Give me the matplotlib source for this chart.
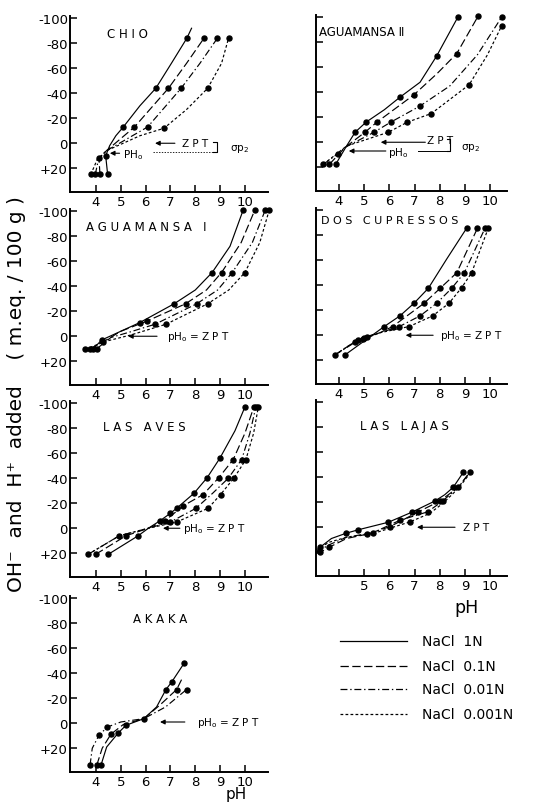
import matplotlib
matplotlib.use('Agg')
import matplotlib.pyplot as plt
from matplotlib.lines import Line2D

plt.rcParams['font.family'] = ['DejaVu Sans']
plt.rcParams['lines.scale_dashes'] = False
plt.rcParams['mathtext.default'] = 'regular'

W, H = 545, 803

# order of series in every panel: NaCl 1N, 0.1N, 0.01N, 0.001N
legend_labels = ['NaCl  1N', 'NaCl  0.1N', 'NaCl  0.01N', 'NaCl  0.001N']
line_styles = ['-', (0, (6, 2.5)), (0, (5, 2, 1, 2)), (0, (2, 1.6))]

ph_ticks = [4, 5, 6, 7, 8, 9, 10]
v_ticks = [-100, -80, -60, -40, -20, 0, 20]
v_tick_labels = ['-100', '-80', '-60', '-40', '-20', '0', '+20']

# ---- CHIO (pH, m.eq./100 g; negative = OH- added)
chio_lines = [
    [(4.47, 25), (4.39, 10), (4.55, 2), (4.8, -6), (5.10, -13), (5.77, -30), (6.41, -44), (7.04, -64), (7.66, -84), (7.85, -92)],
    [(4.16, 25), (4.12, 12), (4.42, 6), (5.55, -13), (6.92, -44), (7.65, -64), (8.35, -84)],
    [(3.97, 25), (4.10, 13), (4.42, 6), (6.08, -13), (7.43, -44), (8.19, -64), (8.89, -84)],
    [(3.79, 25), (4.05, 13), (4.42, 6), (5.77, -6), (6.74, -12), (7.65, -27), (8.50, -44), (9.06, -64), (9.34, -84)],
]
chio_dots = [
    [(4.47, 25), (4.39, 10), (5.10, -13), (6.41, -44), (7.66, -84)],
    [(4.16, 25), (4.12, 12), (5.55, -13), (6.92, -44), (8.35, -84)],
    [(3.97, 25), (6.08, -13), (7.43, -44), (8.89, -84)],
    [(3.79, 25), (6.74, -12), (8.50, -44), (9.34, -84)],
]

# ---- AGUAMANSA II
ag2_lines = [
    [(3.87, 17.6), (4.30, 3), (4.64, -8), (5.07, -16), (5.8, -26), (6.42, -36), (7.22, -48), (7.88, -69), (8.72, -100)],
    [(3.62, 17.6), (4.25, 4), (5.03, -8), (5.50, -16), (6.98, -38), (7.9, -55), (8.68, -71), (9.53, -101)],
    [(3.38, 17.6), (3.97, 9), (4.25, 4), (5.39, -8), (6.05, -16), (7.22, -29), (8.4, -45), (9.5, -70), (10.46, -100)],
    [(3.38, 17.6), (4.30, 3), (5.96, -8), (6.71, -16), (7.67, -23), (9.17, -46), (9.9, -70), (10.46, -93)],
]
ag2_dots = [
    [(3.87, 17.6), (4.64, -8), (5.07, -16), (6.42, -36), (7.88, -69), (8.72, -100)],
    [(3.62, 17.6), (5.03, -8), (5.50, -16), (6.98, -38), (8.68, -71), (9.53, -101)],
    [(3.38, 17.6), (3.97, 9), (5.39, -8), (6.05, -16), (7.22, -29), (10.46, -100)],
    [(5.96, -8), (6.71, -16), (7.67, -23), (9.17, -46), (10.46, -93)],
]

# ---- AGUAMANSA I
ag1_lines = [
    [(3.89, 10), (4.23, 3), (5.0, -4), (5.77, -11), (7.15, -26), (8.0, -37), (8.68, -51), (9.40, -72), (9.93, -101)],
    [(3.76, 10), (4.29, 4.5), (5.0, -4), (6.04, -12), (7.61, -26), (8.45, -37), (9.06, -51), (9.85, -75), (10.40, -101)],
    [(4.03, 10), (4.6, 1), (5.3, -3), (6.38, -9.6), (8.06, -26), (8.9, -37), (9.49, -51), (10.3, -75), (10.82, -101)],
    [(3.56, 10.4), (4.4, 4), (5.4, -1), (6.82, -9.6), (8.50, -26), (9.35, -37), (10.0, -51), (10.6, -75), (10.98, -101)],
]
ag1_dots = [
    [(3.89, 10), (4.23, 3), (5.77, -11), (7.15, -26), (8.68, -51), (9.93, -101)],
    [(3.76, 10), (4.29, 4.5), (6.04, -12), (7.61, -26), (9.06, -51), (10.40, -101)],
    [(4.03, 10), (6.38, -9.6), (8.06, -26), (9.49, -51), (10.82, -101)],
    [(3.56, 10.4), (6.82, -9.6), (8.50, -26), (10.0, -51), (10.98, -101)],
]

# ---- DOS CUPRESSOS
dos_lines = [
    [(4.24, 15.7), (5.80, -7), (6.42, -15.5), (6.98, -25.6), (7.55, -37.6), (8.28, -61), (9.07, -85.6)],
    [(3.84, 15.7), (4.64, 5), (5.10, 1), (5.63, -2), (6.13, -7), (7.38, -25.6), (8.02, -37.6), (8.68, -50), (9.50, -85.6)],
    [(3.84, 15.7), (4.77, 4), (5.0, 2), (5.63, -2), (6.40, -7), (7.22, -15.5), (7.88, -25.6), (8.48, -37.6), (8.98, -50), (9.80, -85.6)],
    [(3.84, 15.7), (4.64, 5), (4.97, 3), (5.63, -2), (6.79, -7), (7.72, -15.5), (8.37, -25.6), (8.87, -38), (9.27, -50), (9.93, -85.6)],
]
dos_dots = [
    [(4.24, 15.7), (5.80, -7), (6.42, -15.5), (6.98, -25.6), (7.55, -37.6), (9.07, -85.6)],
    [(3.84, 15.7), (4.64, 5), (5.10, 1), (6.13, -7), (7.38, -25.6), (8.02, -37.6), (8.68, -50), (9.50, -85.6)],
    [(4.77, 4), (5.0, 2), (6.40, -7), (7.22, -15.5), (7.88, -25.6), (8.48, -37.6), (8.98, -50), (9.80, -85.6)],
    [(4.97, 3), (6.79, -7), (7.72, -15.5), (8.37, -25.6), (8.87, -38), (9.27, -50), (9.93, -85.6)],
]

# ---- LAS AVES
aves_lines = [
    [(4.50, 20.8), (5.70, 6), (6.11, 0), (6.58, -6), (7.0, -12), (7.25, -16), (7.95, -28), (8.48, -40.5), (8.99, -56), (9.6, -78), (10.0, -97)],
    [(3.99, 20.8), (5.21, 6), (6.11, 0), (6.78, -6), (7.52, -18), (8.32, -27), (8.95, -40.5), (9.53, -55), (10.0, -76), (10.36, -97)],
    [(3.69, 20.8), (4.94, 6), (6.11, 0), (7.0, -5), (8.03, -16), (8.7, -28), (9.33, -40), (9.87, -55), (10.2, -76), (10.44, -97)],
    [(3.69, 20.8), (4.94, 6), (6.11, 0), (7.25, -5), (8.52, -16), (9.02, -27), (9.57, -40.5), (10.04, -55), (10.35, -76), (10.54, -97)],
]
aves_dots = [
    [(4.50, 20.8), (5.70, 6), (6.58, -6), (7.0, -12), (7.25, -16), (7.95, -28), (8.48, -40.5), (8.99, -56), (10.0, -97)],
    [(3.99, 20.8), (5.21, 6), (6.78, -6), (7.52, -18), (8.32, -27), (8.95, -40.5), (9.53, -55), (10.36, -97)],
    [(3.69, 20.8), (4.94, 6), (7.0, -5), (8.03, -16), (9.33, -40), (9.87, -55), (10.44, -97)],
    [(7.25, -5), (8.52, -16), (9.02, -27), (9.57, -40.5), (10.04, -55), (10.54, -97)],
]

# ---- LAS LAJAS
lajas_lines = [
    [(3.1, 20), (3.25, 16), (3.7, 9), (4.28, 4.8), (4.77, 2), (5.96, -4), (6.89, -12), (7.81, -21), (8.2, -26), (8.54, -32), (8.94, -44)],
    [(3.1, 21), (3.25, 20), (3.61, 16), (4.3, 9), (5.10, 5.6), (6.03, -0.5), (7.15, -12.3), (8.01, -21), (8.74, -32), (9.20, -44)],
    [(3.1, 20), (3.61, 14), (4.3, 8), (5.36, 4.3), (6.42, -5.6), (7.52, -12.3), (8.12, -21), (8.74, -32), (9.20, -44)],
    [(3.1, 18), (3.61, 12), (4.3, 8), (5.36, 5), (6.82, -4.3), (7.6, -11), (8.12, -19), (8.74, -31), (9.20, -43)],
]
lajas_dots = [
    [(3.25, 16), (4.28, 4.8), (4.77, 2), (5.96, -4), (6.89, -12), (7.81, -21), (8.54, -32), (8.94, -44)],
    [(3.25, 20), (3.61, 16), (5.10, 5.6), (6.03, -0.5), (7.15, -12.3), (8.01, -21), (8.74, -32), (9.20, -44)],
    [(5.36, 4.3), (6.42, -5.6), (7.52, -12.3), (8.12, -21)],
    [(6.82, -4.3)],
]

# ---- AKAKA (no 0.001N curve)
akaka_lines = [
    [(4.20, 33.6), (4.43, 19), (4.90, 7.7), (5.21, 1.6), (5.93, -3.7), (6.44, -13), (6.82, -27), (7.05, -33), (7.56, -48.3)],
    [(4.03, 33.6), (4.25, 20), (4.60, 8.8), (5.1, 1), (5.93, -3.7), (6.6, -15), (7.25, -27), (7.45, -35)],
    [(3.76, 33.6), (3.85, 20), (4.12, 9.6), (4.46, 3), (5.0, -1), (5.93, -3.7), (6.8, -13), (7.65, -27)],
    [],
]
akaka_dots = [
    [(4.20, 33.6), (4.90, 7.7), (5.21, 1.6), (5.93, -3.7), (6.82, -27), (7.05, -33), (7.56, -48.3)],
    [(4.03, 33.6), (4.60, 8.8), (7.25, -27)],
    [(3.76, 33.6), (4.12, 9.6), (4.46, 3), (7.65, -27)],
    [],
]


def make_axes(fig, left_px, width_px, bottom_px):
    height_px = 141 * 1.25
    return fig.add_axes([left_px / W, 1 - bottom_px / H, width_px / W, height_px / H])


def style_axes(ax, col, xlabels=None):
    if col == 0:
        ax.set_xlim(2.953, 10.93)
    else:
        ax.set_xlim(3.086, 10.675)
    ax.set_ylim(39, -102)
    for s in ['top', 'right']:
        ax.spines[s].set_visible(False)
    for s in ['left', 'bottom']:
        ax.spines[s].set_linewidth(1.4)
    ax.set_xticks(ph_ticks)
    ax.set_xticklabels(xlabels if xlabels else [str(t) for t in ph_ticks])
    ax.set_yticks(v_ticks)
    if col == 0:
        ax.set_yticklabels(v_tick_labels)
    else:
        ax.set_yticklabels([])
    ax.tick_params(direction='in', length=5, width=1.1, labelsize=9.5, pad=2)
    ax.tick_params(axis='y', pad=1.5)
    ax.patch.set_alpha(0)


def draw_series(ax, lines, dots):
    for ls, pts, dp in zip(line_styles, lines, dots):
        if pts:
            ax.plot([p[0] for p in pts], [p[1] for p in pts], color='black', lw=0.85, ls=ls, clip_on=False)
        if dp:
            ax.plot([p[0] for p in dp], [p[1] for p in dp], 'o', color='black', ms=3.6, clip_on=False)


def arrow(ax, head, tail):
    ax.annotate('', xy=head, xytext=tail,
                arrowprops=dict(arrowstyle='-|>', lw=0.8, color='black', mutation_scale=7, shrinkA=0, shrinkB=0))


fig = plt.figure(figsize=(W / 100, H / 100), dpi=100)

panels = [
    ('C H I O', 0, 193, chio_lines, chio_dots, (4.44, -88), 8.5, None),
    ('AGUAMANSA Ⅱ', 1, 192, ag2_lines, ag2_dots, (3.21, -89), 8.5, None),
    ('A G U A M A N S A   Ⅰ', 0, 386, ag1_lines, ag1_dots, (3.60, -88), 8.5, None),
    ('D O S   C U P R E S S O S', 1, 385, dos_lines, dos_dots, (3.30, -92), 8, None),
    ('L A S   A V E S', 0, 578, aves_lines, aves_dots, (4.28, -81), 8.5, None),
    ('L A S   L A J A S', 1, 577, lajas_lines, lajas_dots, (4.83, -81), 8.5, ['', '5', '6', '7', '8', '9', '10']),
    ('A K A K A', 0, 773, akaka_lines, akaka_dots, (5.49, -84), 8.5, None),
]

axes = []
for title, col, bottom, lines, dots, tpos, tsize, xl in panels:
    if col == 0:
        ax = make_axes(fig, 70, 198, bottom)
    else:
        ax = make_axes(fig, 316, 191, bottom)
    style_axes(ax, col, xl)
    draw_series(ax, lines, dots)
    ax.text(tpos[0], tpos[1], title, fontsize=tsize, ha='left', va='center')
    axes.append(ax)

ax_chio, ax_ag2, ax_ag1, ax_dos, ax_aves, ax_lajas, ax_akaka = axes

# CHIO annotations
arrow(ax_chio, (6.38, 0), (7.18, 0))
ax_chio.text(7.46, 0, 'Z P T', fontsize=7.5, va='center')
arrow(ax_chio, (4.56, 8), (4.95, 8))
ax_chio.text(5.1, 8.5, 'PH$_o$', fontsize=7.5, va='center')
ax_chio.plot([6.3, 8.85], [7, 7], color='black', lw=0.6, ls=(0, (1, 1)))
ax_chio.plot([8.72, 8.87, 8.87, 8.72], [-1, -1, 7, 7], color='black', lw=0.8)
ax_chio.text(9.4, 3.5, 'σp$_2$', fontsize=7.5, va='center')

# AGUAMANSA II annotations
arrow(ax_ag2, (5.66, 0), (7.43, 0))
ax_ag2.text(7.5, -2, 'Z P T', fontsize=7.5, va='center')
arrow(ax_ag2, (4.39, 7), (5.86, 7))
ax_ag2.text(5.95, 7.5, 'pH$_o$', fontsize=7.5, va='center')
ax_ag2.plot([7.12, 8.42], [7, 7], color='black', lw=0.7)
ax_ag2.plot([8.28, 8.42, 8.42, 8.28], [-3, -3, 7, 7], color='black', lw=0.8)
ax_ag2.text(8.85, 3.5, 'σp$_2$', fontsize=7.5, va='center')

# pHo = ZPT arrows
arrow(ax_ag1, (5.29, 0), (6.46, 0))
ax_ag1.text(6.86, 0, 'pH$_o$ = Z P T', fontsize=7.5, va='center')
arrow(ax_dos, (6.65, 0), (7.74, 0))
ax_dos.text(8.0, 0, 'pH$_o$ = Z P T', fontsize=7.5, va='center')
arrow(ax_aves, (6.70, 0), (7.38, 0))
ax_aves.text(7.5, 0, 'pH$_o$ = Z P T', fontsize=7.5, va='center')
arrow(ax_lajas, (7.10, 0), (8.61, 0))
ax_lajas.text(8.93, 0, 'Z P T', fontsize=7.5, va='center')
arrow(ax_akaka, (6.58, -1), (7.58, -1))
ax_akaka.text(8.07, -1, 'pH$_o$ = Z P T', fontsize=7.5, va='center')

# axis titles
fig.text(17 / W, 1 - 394 / H, 'OH⁻  and  H⁺  added    ( m.eq. / 100 g )',
         rotation=90, fontsize=14.5, ha='center', va='center')
fig.text(467 / W, 1 - 608 / H, 'pH', fontsize=12.5, ha='center', va='center')
fig.text(236 / W, 1 - 802.5 / H, 'pH', fontsize=11, ha='center', va='bottom')

# legend drawn by hand
for i, (lab, ls) in enumerate(zip(legend_labels, line_styles)):
    y = 1 - [642, 667, 690, 715][i] / H
    fig.add_artist(Line2D([340 / W, 407 / W], [y, y], transform=fig.transFigure,
                          color='black', lw=0.9, ls=ls))
    fig.text(422 / W, y, lab, fontsize=10, va='center', ha='left')

fig.savefig('out.png', dpi=100)
